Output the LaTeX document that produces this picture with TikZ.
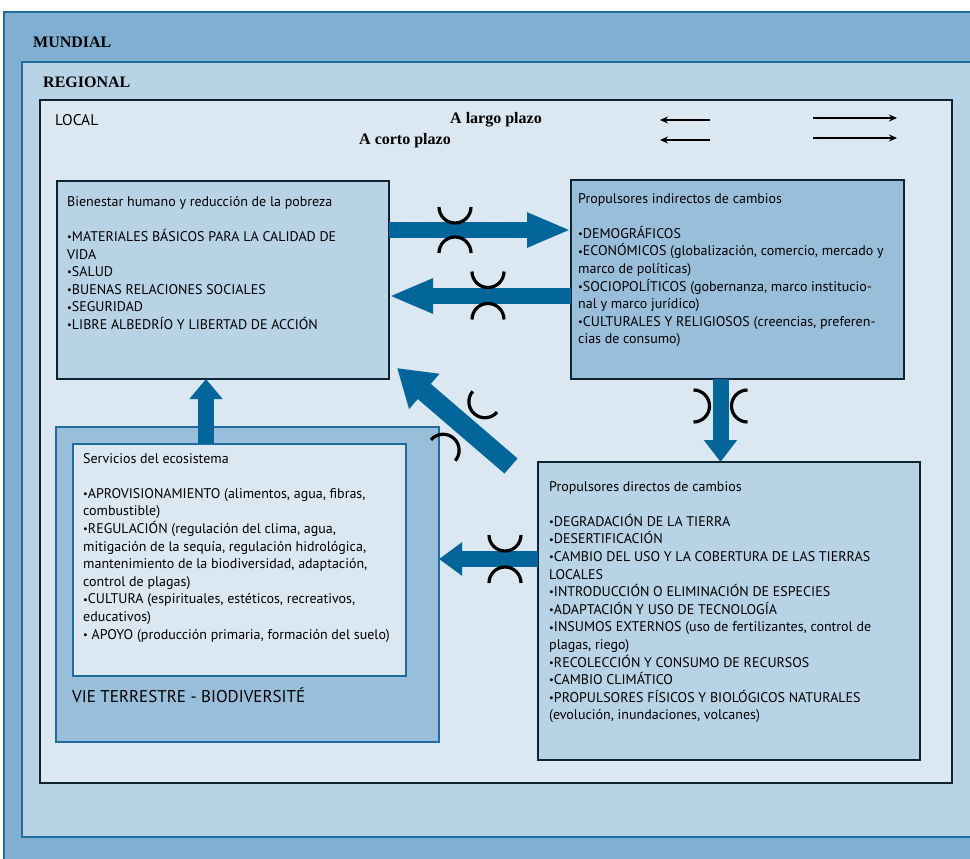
\documentclass[tikz,border=0pt]{standalone}
\usepackage{fontspec}
\setmainfont{PT Sans}
\newfontfamily\headfont{Liberation Serif}
\usepackage{graphicx}
\usetikzlibrary{arrows.meta}

\definecolor{mundialfill}{HTML}{7FB0D1}
\definecolor{regionalfill}{HTML}{B8D3E6}
\definecolor{localfill}{HTML}{DBE7F1}
\definecolor{midfill}{HTML}{99BED9}
\definecolor{frameblue}{HTML}{1F6D9E}
\definecolor{arrowblue}{HTML}{02669A}
\definecolor{boxline}{HTML}{0F2433}

\newcommand{\bul}{\raisebox{.12ex}{\scalebox{.75}{\textbullet}}}

\tikzset{
  frame/.style={draw=frameblue, line width=2pt, anchor=north west, inner sep=0pt, outer sep=0pt},
  box/.style={draw=boxline, line width=1.5pt, anchor=north west, inner sep=0pt, outer sep=0pt},
  bluebox/.style={draw=frameblue, line width=2pt, anchor=north west, inner sep=0pt, outer sep=0pt},
  boxtext/.style={anchor=north west, align=left, inner sep=0pt},
  head/.style={anchor=base west, inner sep=0pt, font=\headfont\fontsize{16}{18}\selectfont\bfseries},
  fat/.style={arrowblue, line width=16pt, -{Triangle[width=32pt,length=#1]}},
  thinarrow/.style={black, line width=1.4pt, -{Stealth[length=8pt,width=7pt]}},
  gapline/.style={black, line width=3.2pt},
  pics/gapmark/.style={code={
    \draw[gapline] (-16pt,#1+16pt) arc[start angle=180, end angle=360, radius=16pt];
    \draw[gapline] (-16pt,-#1-16pt) arc[start angle=180, end angle=0, radius=16pt];
  }},
}

\begin{document}
\begin{tikzpicture}[x=1pt, y=-1pt, font=\fontsize{14}{17.6}\selectfont]
\useasboundingbox (0,0) rectangle (970,859);
\node[frame, fill=mundialfill, minimum width=990pt, minimum height=870pt] (mundial) at (4,12) {};
\node[frame, fill=regionalfill, minimum width=970pt, minimum height=775pt] (regional) at (22,62) {};
\node[box, fill=localfill, minimum width=912pt, minimum height=683pt] (local) at (40,100) {};
\node[head] (mundialt) at (33,48) {MUNDIAL};
\node[head] (regionalt) at (43,88) {REGIONAL};
\node[anchor=base west, inner sep=0pt, font=\fontsize{15.5}{18}\selectfont] (localt) at (55,125) {LOCAL};
\node[head, anchor=base] (largo) at (496,124) {A largo plazo};
\node[head, anchor=base] (corto) at (405,144) {A corto plazo};

\coordinate (largoback) at (660,120);
\coordinate (largobackend) at (710,120);
\coordinate (cortoback) at (660,140);
\coordinate (cortobackend) at (710,140);
\coordinate (largofwd) at (813,118);
\coordinate (largofwdend) at (897,118);
\coordinate (cortofwd) at (813,138);
\coordinate (cortofwdend) at (897,138);
\draw[thinarrow] (largobackend) -- (largoback);
\draw[thinarrow] (cortobackend) -- (cortoback);
\draw[thinarrow] (largofwd) -- (largofwdend);
\draw[thinarrow] (cortofwd) -- (cortofwdend);

\node[box, fill=regionalfill, minimum width=332pt, minimum height=198pt] (bien) at (57,181) {};
\node[box, fill=midfill, minimum width=333pt, minimum height=199pt] (ind) at (571,180) {};
\node[box, fill=regionalfill, minimum width=382pt, minimum height=298pt] (dir) at (538,462) {};
\node[bluebox, fill=midfill, minimum width=383pt, minimum height=315pt] (vie) at (56,427) {};
\node[bluebox, fill=localfill, minimum width=333pt, minimum height=232pt] (serv) at (73,444) {};

\node[boxtext] (bientext) at (67,196) {Bienestar humano y reducción de la pobreza\\[17.6pt]
  \bul MATERIALES BÁSICOS PARA LA CALIDAD DE\\ VIDA\\ \bul SALUD\\
  \bul BUENAS RELACIONES SOCIALES\\ \bul SEGURIDAD\\ \bul LIBRE ALBEDRÍO Y LIBERTAD DE ACCIÓN};
\node[boxtext] (indtext) at (578,193) {Propulsores indirectos de cambios\\[17.6pt]
  \bul DEMOGRÁFICOS\\ \bul ECONÓMICOS (globalización, comercio, mercado y\\ marco de políticas)\\
  \bul SOCIOPOLÍTICOS (gobernanza, marco institucio-\\ nal y marco jurídico)\\
  \bul CULTURALES Y RELIGIOSOS (creencias, preferen-\\ cias de consumo)};
\node[boxtext] (dirtext) at (549,481) {Propulsores directos de cambios\\[17.6pt]
  \bul DEGRADACIÓN DE LA TIERRA\\ \bul DESERTIFICACIÓN\\
  \bul CAMBIO DEL USO Y LA COBERTURA DE LAS TIERRAS\\ LOCALES\\
  \bul INTRODUCCIÓN O ELIMINACIÓN DE ESPECIES\\ \bul ADAPTACIÓN Y USO DE TECNOLOGÍA\\
  \bul INSUMOS EXTERNOS (uso de fertilizantes, control de\\ plagas, riego)\\
  \bul RECOLECCIÓN Y CONSUMO DE RECURSOS\\ \bul CAMBIO CLIMÁTICO\\
  \bul PROPULSORES FÍSICOS Y BIOLÓGICOS NATURALES\\ (evolución, inundaciones, volcanes)};
\node[boxtext] (servtext) at (83,453) {Servicios del ecosistema\\[17.6pt]
  \bul APROVISIONAMIENTO (alimentos, agua, fibras,\\ combustible)\\
  \bul REGULACIÓN (regulación del clima, agua,\\ mitigación de la sequía, regulación hidrológica,\\
  mantenimiento de la biodiversidad, adaptación,\\ control de plagas)\\
  \bul CULTURA (espirituales, estéticos, recreativos,\\ educativos)\\
  \bul\ APOYO (producción primaria, formación del suelo)};
\node[anchor=base west, inner sep=0pt, font=\fontsize{17}{20}\selectfont] (viet) at (72,702) {VIE TERRESTRE - BIODIVERSITÉ};

\draw[fat=44pt] ([yshift=50pt]bien.east) -- ([yshift=50pt]bien.east -| ind.west);
\draw[fat=44pt] ([yshift=-16pt]bien.east -| ind.west) -- ([yshift=-16pt]bien.east);
\draw[fat=36pt, line width=20pt, -{Triangle[width=44pt,length=36pt]}] ([xshift=-27pt,yshift=-4pt]dir.north west) -- ([xshift=8pt,yshift=11pt]bien.south east);
\draw[fat=20pt] ([xshift=-17pt]bien.south |- serv.north) -- ([xshift=-17pt]bien.south);
\draw[fat=22pt] ([xshift=-17pt]ind.south) -- ([xshift=-17pt]ind.south |- dir.north);
\draw[fat=23pt] ([yshift=52pt]dir.west) -- ([yshift=52pt]dir.west -| vie.east);

\pic at (455,230) {gapmark=7pt};
\pic at (488,295.5) {gapmark=8pt};
\pic[rotate=-40.7] at (464,426) {gapmark=16pt};
\pic[rotate=90] at (720.5,406) {gapmark=11pt};
\pic at (505,559) {gapmark=8pt};
\end{tikzpicture}
\end{document}
